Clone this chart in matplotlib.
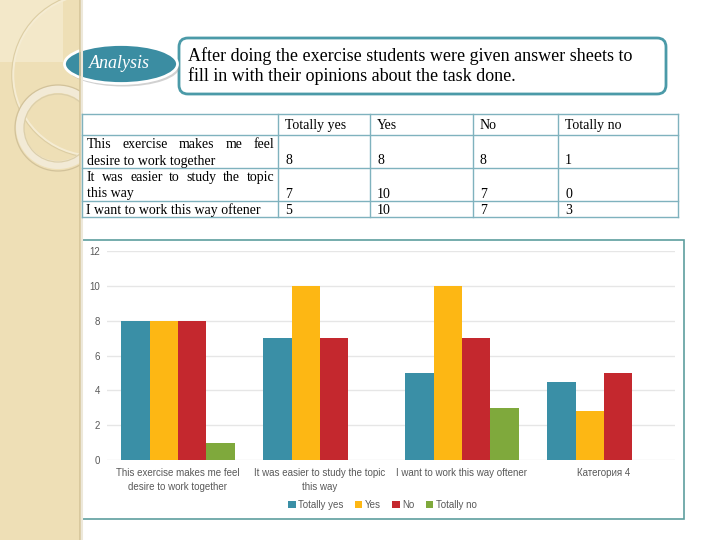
import matplotlib
matplotlib.use("Agg")
import matplotlib.pyplot as plt
import numpy as np
from matplotlib.patches import Rectangle, FancyBboxPatch, Ellipse, Circle, Wedge

# ---------------- data ----------------
categories = ["This exercise makes me feel\ndesire to work together",
              "It was easier to study the topic\nthis way",
              "I want to work this way oftener",
              "Категория 4"]
series_names = ["Totally yes", "Yes", "No", "Totally no"]
totally_yes = [8, 7, 5, 4.5]
yes = [8, 10, 10, 2.8]
no = [8, 7, 7, 5]
totally_no = [1, 0, 3, 0]
colors = ["#3A8FA6", "#FDB714", "#C4282E", "#7FA93C"]
yticks = [0, 2, 4, 6, 8, 10, 12]
title_text = "After doing the exercise students were given answer sheets to\nfill in with their opinions about the task done."
badge_text = "Analysis"
n_table_rows = 3

fig = plt.figure(figsize=(7.2, 5.4), dpi=100)
fig.patch.set_facecolor("white")

# background / decoration axes in pixel coords
bg = fig.add_axes([0, 0, 1, 1], zorder=0)
bg.set_xlim(0, 720)
bg.set_ylim(540, 0)
bg.axis("off")

strip = Rectangle((0, 0), 80, 540, facecolor="#EEDFB6", edgecolor="none")
bg.add_patch(strip)
clip = Rectangle((0, 0), 80, 540, transform=bg.transData)
light = Rectangle((0, 0), 63, 62, facecolor="#F3E8C9", edgecolor="none")
bg.add_patch(light); light.set_clip_path(clip)
bg.plot([80, 80], [0, 540], color="#D5C59A", lw=1.2)
bg.plot([81.5, 81.5], [0, 540], color="#EDE8DA", lw=1.5)
# decorative big arc
for (cx, cy, r, lw, c) in [(94, 75, 81, 1.8, "#F5ECD3"), (94, 75, 82.3, 0.8, "#DCCDA3")]:
    circ = Circle((cx, cy), r, facecolor="none", edgecolor=c, lw=lw)
    bg.add_patch(circ)
    circ.set_clip_path(clip)
# ring
ring = Wedge((58, 127), 42, 0, 360, width=8, facecolor="#F2EAD6", edgecolor="none")
bg.add_patch(ring); ring.set_clip_path(clip)
for r, c in [(43, "#D2C29A"), (34, "#DCCFAA")]:
    cc = Circle((58, 128), r, facecolor="none", edgecolor=c, lw=0.9)
    bg.add_patch(cc); cc.set_clip_path(clip)

# title box
box = FancyBboxPatch((179, 38), 487, 56, boxstyle="round,pad=0,rounding_size=9",
                     facecolor="white", edgecolor="#4B9AA8", lw=2)
bg.add_patch(box)
bg.text(188, 66.5, title_text, fontsize=13, family="Liberation Serif", va="center",
        ha="left", linespacing=1.15, color="black")

# badge
bg.add_patch(Ellipse((123, 67), 113, 39, facecolor="#9A9A9A", edgecolor="none", alpha=0.45))
bg.add_patch(Ellipse((121, 64), 113, 39, facecolor="#3B8DA2", edgecolor="white", lw=2))
bg.text(119, 64, badge_text, fontsize=13, family="Liberation Serif", style="italic",
        color="white", ha="center", va="center")

# table
col_x = [82, 278, 370, 473, 558, 678]
row_y = [114, 135, 168, 201, 217]
tcol = "#7FB2BE"
for x in col_x:
    bg.plot([x, x], [row_y[0], row_y[-1]], color=tcol, lw=1)
for y in row_y:
    bg.plot([col_x[0], col_x[-1]], [y, y], color=tcol, lw=1)
tfs = 10
tfam = "Liberation Serif"
for j, name in enumerate(series_names):
    bg.text(col_x[j + 1] + 7, 125.5, name, fontsize=tfs, family=tfam, va="center")
values = [totally_yes, yes, no, totally_no]
renderer = fig.canvas.get_renderer()
for i in range(n_table_rows):
    lines = categories[i].split("\n")
    ybot = row_y[i + 2] - 7
    if len(lines) == 2:
        # justified first line
        words = lines[0].split()
        ytop = ybot - 16.5
        ts = [bg.text(0, ytop, w, fontsize=tfs, family=tfam, va="center") for w in words]
        widths = [t.get_window_extent(renderer).width for t in ts]
        left, right = 87, 274
        gap = (right - left - sum(widths)) / (len(words) - 1)
        x = left
        for t, w in zip(ts, widths):
            t.set_x(x)
            x += w + gap
        bg.text(left, ybot, lines[1], fontsize=tfs, family=tfam, va="center")
    else:
        bg.text(86, ybot, lines[0], fontsize=tfs, family=tfam, va="center")
    for j in range(4):
        bg.text(col_x[j + 1] + 7, ybot, f"{values[j][i]:g}", fontsize=tfs, family=tfam, va="center")

# chart frame
bg.add_patch(Rectangle((82, 240), 602, 279, facecolor="white", edgecolor="#5E9E9E", lw=1.2))

# ---------------- bar chart ----------------
ax = fig.add_axes([107 / 720, (540 - 460) / 540, (675 - 107) / 720, (460 - 251) / 540], zorder=2)
ax.set_facecolor("none")
x = np.arange(len(categories))
w = 0.2
for k, (vals, name) in enumerate(zip(values, series_names)):
    ax.bar(x + (k - 1.5) * w, vals, width=w, color=colors[k], label=name, zorder=3)
ax.set_xlim(-0.5, len(categories) - 0.5)
ax.set_ylim(0, 12)
ax.set_yticks(yticks)
ax.yaxis.grid(True, color="#E6E6E6", lw=1, zorder=0)
for s in ax.spines.values():
    s.set_visible(False)
ax.tick_params(axis="both", length=0, labelsize=7, labelcolor="#595959")
ax.tick_params(axis="y", pad=5)
ax.set_xticks(x)
ax.set_xticklabels(categories, family="Liberation Sans", linespacing=1.45)
for lab in ax.get_yticklabels():
    lab.set_family("Liberation Sans")
ax.tick_params(axis="x", pad=6)
leg = ax.legend(loc="center", bbox_to_anchor=(0.485, -0.215), ncol=4, frameon=False,
                prop={"family": "Liberation Sans", "size": 7}, handlelength=0.8,
                handleheight=0.8, handletextpad=0.3, columnspacing=1.1)
for t in leg.get_texts():
    t.set_color("#595959")

fig.savefig("out.png", dpi=100)
